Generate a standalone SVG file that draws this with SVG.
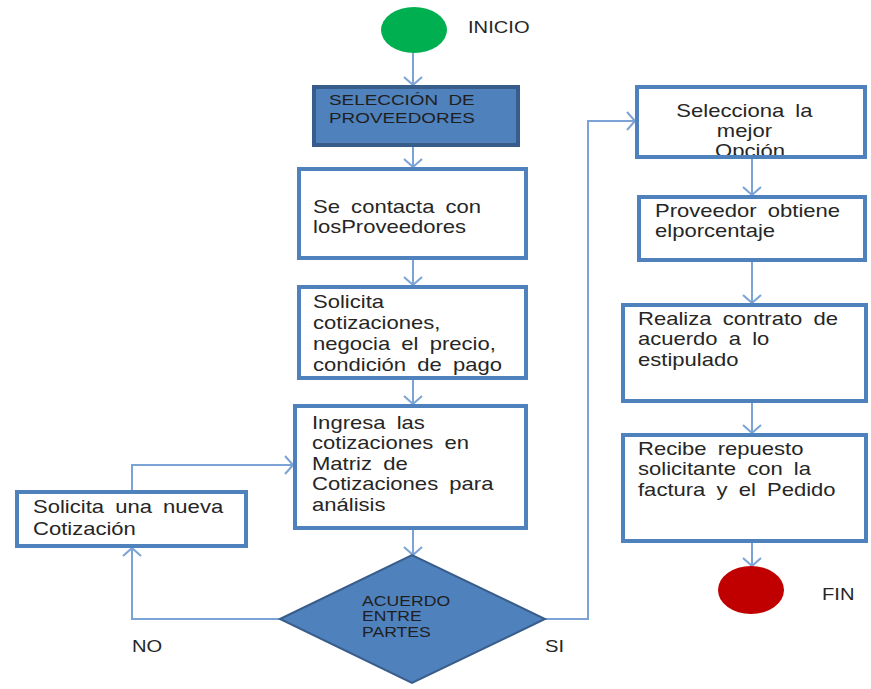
<svg xmlns="http://www.w3.org/2000/svg" width="871" height="689" viewBox="0 0 871 689">
  <style>
    .box { fill: #ffffff; stroke: #4F81BD; stroke-width: 4; }
    .frame { fill: none; stroke: #4F81BD; stroke-width: 4; }
    .dark { fill: #4F81BD; stroke: #385D8A; stroke-width: 4; }
    .dec { fill: #4F81BD; stroke: #385D8A; stroke-width: 2; }
    .t { font-family: "Liberation Sans", Arial, sans-serif; font-size: 17.5px; fill: #262626; word-spacing: 4px; }
    .cap { font-family: "Liberation Sans", Arial, sans-serif; font-size: 15px; fill: #1F1F1F; word-spacing: 4px; }
    .lbl { font-family: "Liberation Sans", Arial, sans-serif; font-size: 16px; fill: #262626; }
    .dtx { font-family: "Liberation Sans", Arial, sans-serif; font-size: 14px; fill: #1F1F1F; }
    .conn { fill: none; stroke: #7BA3D6; stroke-width: 2; marker-end: url(#arr); }
  </style>
  <defs>
    <marker id="arr" markerUnits="userSpaceOnUse" viewBox="0 0 10 20" markerWidth="10" markerHeight="20" refX="9" refY="10" orient="auto">
      <path d="M1,1 L9,10 L1,19" fill="none" stroke="#7BA3D6" stroke-width="2"/>
    </marker>
    <!-- inner area of the "Selecciona la mejor Opción" box; the last line runs under its border -->
    <clipPath id="selClip" clipPathUnits="userSpaceOnUse">
      <rect x="637" y="87" width="228" height="70"/>
    </clipPath>
  </defs>

  <!-- connectors -->
  <g id="connectors">
    <path class="conn" d="M413,53 L413,85"/>
    <path class="conn" d="M413,147 L413,167"/>
    <path class="conn" d="M413,260 L413,285"/>
    <path class="conn" d="M413,380 L413,404"/>
    <path class="conn" d="M413,530 L413,555"/>
    <path class="conn" d="M280,619 L132,619 L132,548"/>
    <path class="conn" d="M132,490 L132,465 L293,465"/>
    <path class="conn" d="M545,619 L588,619 L588,121 L635,121"/>
    <path class="conn" d="M752,159 L752,195"/>
    <path class="conn" d="M752,262 L752,303"/>
    <path class="conn" d="M752,403 L752,433"/>
    <path class="conn" d="M752,543 L752,566"/>
  </g>

  <!-- start -->
  <g id="inicio">
    <ellipse cx="414" cy="30" rx="33" ry="23" fill="#00B050"/>
    <text class="lbl" transform="translate(468,33) scale(1.26,1)">INICIO</text>
  </g>

  <g id="seleccion-proveedores">
    <rect class="dark" x="314" y="87" width="204" height="58"/>
    <text class="cap" transform="translate(329,105) scale(1.26,1)">
      <tspan x="0" y="0">SELECCIÓN DE</tspan>
      <tspan x="0" y="18">PROVEEDORES</tspan>
    </text>
  </g>

  <g id="contacta">
    <rect class="box" x="299" y="169" width="227" height="89"/>
    <text class="t" transform="translate(313,213) scale(1.26,1)">
      <tspan x="0" y="0">Se contacta  con</tspan>
      <tspan x="0" y="20" word-spacing="0">losProveedores</tspan>
    </text>
  </g>

  <g id="cotizaciones">
    <rect class="box" x="299" y="287" width="227" height="91"/>
    <text class="t" transform="translate(313,308) scale(1.26,1)">
      <tspan x="0" y="0">Solicita</tspan>
      <tspan x="0" y="21">cotizaciones,</tspan>
      <tspan x="0" y="42">negocia el precio,</tspan>
      <tspan x="0" y="63">condición de pago</tspan>
    </text>
  </g>

  <g id="ingresa">
    <rect class="box" x="295" y="406" width="231" height="122"/>
    <text class="t" transform="translate(312,429) scale(1.26,1)">
      <tspan x="0" y="0">Ingresa las</tspan>
      <tspan x="0" y="20.5">cotizaciones en</tspan>
      <tspan x="0" y="41">Matriz de</tspan>
      <tspan x="0" y="61.5">Cotizaciones para</tspan>
      <tspan x="0" y="82">análisis</tspan>
    </text>
  </g>

  <g id="nueva-cotizacion">
    <rect class="box" x="17" y="492" width="229" height="54"/>
    <text class="t" transform="translate(33,513) scale(1.26,1)">
      <tspan x="0" y="0">Solicita una nueva</tspan>
      <tspan x="0" y="22">Cotización</tspan>
    </text>
  </g>

  <g id="acuerdo">
    <polygon class="dec" points="280,619 412,555 545,619 412,683"/>
    <text class="dtx" transform="translate(362,606) scale(1.26,1)">
      <tspan x="0" y="0">ACUERDO</tspan>
      <tspan x="0" y="15.5">ENTRE</tspan>
      <tspan x="0" y="31">PARTES</tspan>
    </text>
    <text class="lbl" transform="translate(132,652) scale(1.26,1)">NO</text>
    <text class="lbl" transform="translate(545,652) scale(1.26,1)">SI</text>
  </g>

  <g id="mejor-opcion">
    <rect x="637" y="87" width="228" height="70" fill="#ffffff"/>
    <g clip-path="url(#selClip)">
      <text class="t" text-anchor="middle" transform="translate(750,117) scale(1.26,1)">
        <tspan x="0" y="0">Selecciona  la</tspan>
        <tspan x="0" y="20">mejor</tspan>
        <tspan x="0" y="40">Opción</tspan>
      </text>
    </g>
    <rect class="frame" x="637" y="87" width="228" height="70"/>
  </g>

  <g id="porcentaje">
    <rect class="box" x="639" y="197" width="226" height="63"/>
    <text class="t" transform="translate(655,217) scale(1.26,1)">
      <tspan x="0" y="0">Proveedor obtiene</tspan>
      <tspan x="0" y="20" word-spacing="0">elporcentaje</tspan>
    </text>
  </g>

  <g id="contrato">
    <rect class="box" x="623" y="305" width="243" height="96"/>
    <text class="t" transform="translate(638,325) scale(1.26,1)">
      <tspan x="0" y="0">Realiza contrato de</tspan>
      <tspan x="0" y="20">acuerdo a lo</tspan>
      <tspan x="0" y="41">estipulado</tspan>
    </text>
  </g>

  <g id="repuesto">
    <rect class="box" x="623" y="435" width="243" height="106"/>
    <text class="t" transform="translate(638,455) scale(1.26,1)">
      <tspan x="0" y="0">Recibe repuesto</tspan>
      <tspan x="0" y="20">solicitante con la</tspan>
      <tspan x="0" y="41">factura y el Pedido</tspan>
    </text>
  </g>

  <!-- end -->
  <g id="fin">
    <ellipse cx="751" cy="590" rx="33" ry="24" fill="#C00000"/>
    <text class="lbl" transform="translate(822,600) scale(1.26,1)">FIN</text>
  </g>
</svg>
